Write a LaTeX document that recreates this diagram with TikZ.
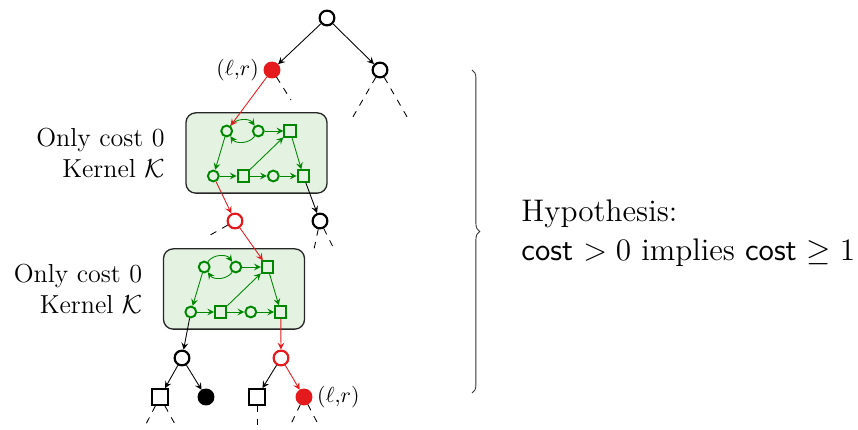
\documentclass[tikz,border=0pt]{standalone}
\usepackage{amsmath, amssymb}
\usetikzlibrary{positioning,decorations.pathreplacing}

\definecolor{pathred}{RGB}{228,26,28}
\definecolor{kgreen}{RGB}{0,135,0}
\definecolor{kfill}{RGB}{228,242,226}

\begin{document}
\begin{tikzpicture}[
    x=4.608pt,
    y=4.608pt,
    >=stealth,
    tnode/.style={circle,draw,line width=1pt,minimum size=6.8pt,inner sep=0pt},
    tsq/.style={rectangle,draw,line width=1pt,minimum size=7.2pt,inner sep=0pt},
    kc/.style={circle,draw=kgreen,line width=0.9pt,minimum size=5pt,inner sep=0pt},
    ks/.style={rectangle,draw=kgreen,line width=0.9pt,minimum size=5.2pt,inner sep=0pt},
    kernel/.style={draw=black!85,fill=kfill,rounded corners=4.5pt,semithick,
        minimum width=65pt,minimum height=37pt},
    karr/.style={kgreen,->,thin},
    tarr/.style={->,thin},
    rarr/.style={pathred,->,thin},
    stub/.style={dashed,thin}
]
    \useasboundingbox (0,0) rectangle (85.8,43);

    % top of the tree
    \node[tnode] (rt) at (32.7,41.2) {};
    \node[tnode,fill=pathred,draw=pathred] (lr) at (27.2,36.0) {};
    \node[left=1pt of lr,inner sep=1pt] (lrlab) {$(\ell{,}r)$};
    \node[tnode] (rc) at (38.0,36.0) {};
    \draw[tarr] (rt) -- (lr);
    \draw[tarr] (rt) -- (rc);
    \draw[stub] (lr) -- ++(1.9,-3.0);
    \draw[stub] (rc) -- ++(-3.0,-5.2);
    \draw[stub] (rc) -- ++(3.0,-5.2);

    % the two kernels
    \foreach \kn/\cx/\cy in {1/25.65/27.7, 2/23.4/14.1}{
        \node[kernel] (k\kn) at (\cx,\cy) {};
        \node[align=right,font=\large,left=6pt of k\kn] (lab\kn) {Only cost 0\\Kernel $\mathcal{K}$};
        \begin{scope}[shift={(\cx,\cy)}]
            \node[kc] (k\kn c1) at (-2.98,2.2) {};
            \node[kc] (k\kn c2) at (0.18,2.2) {};
            \node[ks] (k\kn s1) at (3.35,2.2) {};
            \node[kc] (k\kn c3) at (-4.32,-2.3) {};
            \node[ks] (k\kn s2) at (-1.32,-2.3) {};
            \node[kc] (k\kn c4) at (1.68,-2.3) {};
            \node[ks] (k\kn s3) at (4.68,-2.3) {};
        \end{scope}
        \draw[karr] (k\kn c1) to[bend left=55] (k\kn c2);
        \draw[karr] (k\kn c2) to[bend left=55] (k\kn c1);
        \draw[karr] (k\kn c2) -- (k\kn s1);
        \draw[karr] (k\kn c1) -- (k\kn c3);
        \draw[karr] (k\kn s1) -- (k\kn s3);
        \draw[karr] (k\kn s2) -- (k\kn s1);
        \draw[karr] (k\kn c3) -- (k\kn s2);
        \draw[karr] (k\kn s2) -- (k\kn c4);
        \draw[karr] (k\kn c4) -- (k\kn s3);
    }

    % between the kernels
    \node[tnode,draw=pathred] (rm) at (23.5,20.9) {};
    \node[tnode] (bm) at (32.0,20.9) {};
    \draw[rarr] (lr) -- (k1c1);
    \draw[rarr] (k1c3) -- (rm);
    \draw[tarr] (k1s3) -- (bm);
    \draw[rarr] (rm) -- (k2s1);
    \draw[stub] (rm) -- ++(-3.0,-1.7);
    \draw[stub] (bm) -- ++(-0.7,-3.3);
    \draw[stub] (bm) -- ++(1.5,-3.0);

    % bottom of the tree
    \node[tnode] (bl) at (18.2,7.2) {};
    \node[tnode,draw=pathred] (br) at (28.1,7.2) {};
    \draw[tarr] (k2c3) -- (bl);
    \draw[rarr] (k2s3) -- (br);
    \node[tsq] (bl1) at (16.0,3.3) {};
    \node[tnode,fill] (bl2) at (20.6,3.3) {};
    \node[tsq] (br1) at (25.7,3.3) {};
    \node[tnode,fill=pathred,draw=pathred] (br2) at (30.4,3.3) {};
    \node[right=1pt of br2,inner sep=1pt] (brlab) {$(\ell{,}r)$};
    \draw[tarr] (bl) -- (bl1);
    \draw[tarr] (bl) -- (bl2);
    \draw[tarr] (br) -- (br1);
    \draw[rarr] (br) -- (br2);
    \draw[stub] (bl1) -- ++(-1.5,-2.9);
    \draw[stub] (bl1) -- ++(1.6,-2.9);
    \draw[stub] (br1) -- ++(0,-3.1);
    \draw[stub] (br2) -- ++(-1.4,-2.9);
    \draw[stub] (br2) -- ++(1.5,-2.9);

    % hypothesis
    \coordinate (bt) at (47.2,36.0);
    \coordinate (bb) at (47.2,3.7);
    \draw[decorate,decoration={brace,amplitude=3.6pt},thin,black!80] (bt) -- (bb);
    \node[anchor=west,align=left,font=\Large,inner sep=0pt] (hyp) at (52.1,19.7)
        {Hypothesis:\\\textsf{cost} $>0$ implies \textsf{cost} $\geq 1$};
\end{tikzpicture}
\end{document}
